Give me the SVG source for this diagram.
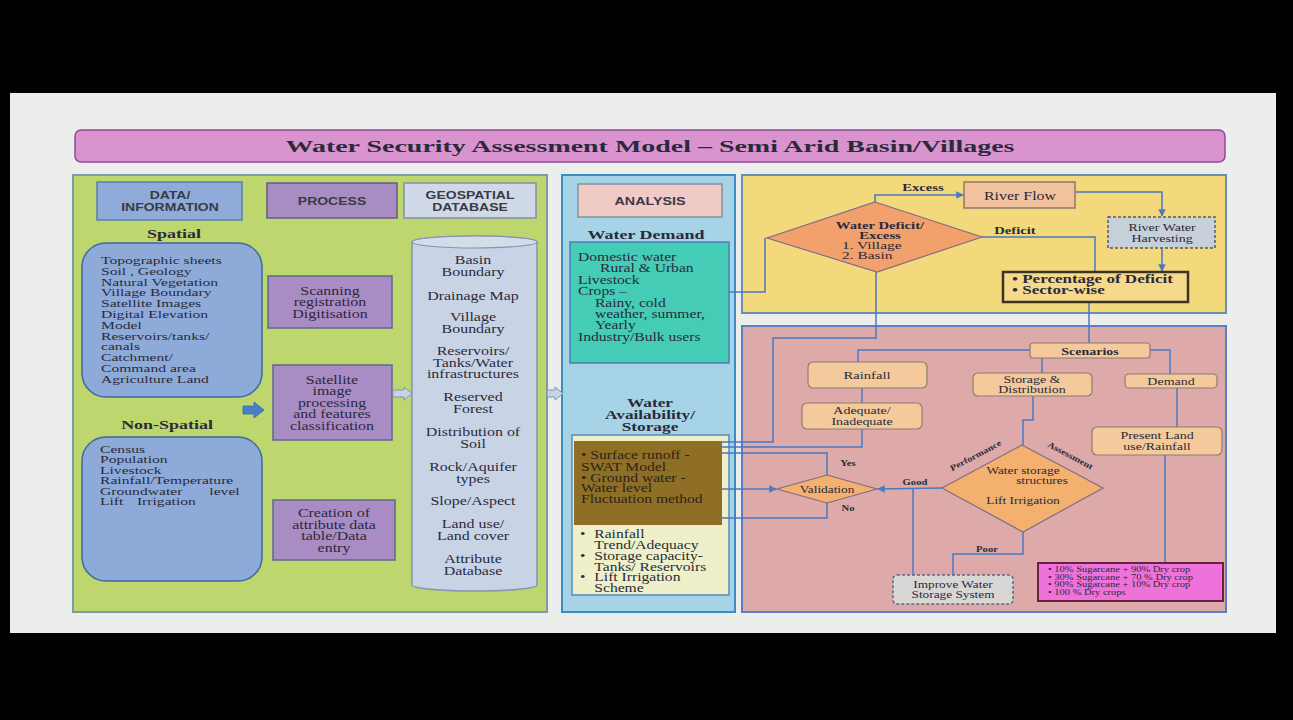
<svg xmlns="http://www.w3.org/2000/svg" width="1293" height="720" viewBox="0 0 1293 720">
<defs>
<marker id="ah" viewBox="0 0 10 10" refX="9" refY="5" markerWidth="5" markerHeight="5" orient="auto-start-reverse"><path d="M0,0 L10,5 L0,10 Z" fill="#4a78c2"/></marker>
<style>
.t{font-family:"Liberation Serif","Times New Roman",serif;fill:#2a2a3a}
.b{font-weight:bold}
.h{font-family:"Liberation Sans",Arial,sans-serif;font-weight:bold;font-size:10px;fill:#3a3a44}
.m{text-anchor:middle}
.c{stroke:#4a78c2;stroke-width:1.5;fill:none}
.pk{fill:#f4c99c;stroke:#8c7d70;stroke-width:1.2}
.dm{stroke:#7e6e86;stroke-width:1.2}
</style>
</defs>
<rect x="0" y="0" width="1293" height="720" fill="#000"/>
<rect x="10" y="93" width="1266" height="540" fill="#ebeeeb"/>

<g id="title">
<rect x="75" y="130" width="1150" height="32" rx="6" fill="#d994cf" stroke="#8e4a9c" stroke-width="1.5"/>
<text x="650" y="152" class="t b m" font-size="17" textLength="729" lengthAdjust="spacingAndGlyphs">Water Security Assessment Model – Semi Arid Basin/Villages</text>
</g>

<g id="panel-data">
<rect x="73" y="175" width="474" height="437" fill="#bdd66e" stroke="#7f98a8" stroke-width="2"/>
</g>
<g id="panel-analysis">
<rect x="562" y="175" width="173" height="437" fill="#a6d4e6" stroke="#3a8cc4" stroke-width="2"/>
</g>
<g id="panel-deficit">
<rect x="742" y="175" width="484" height="138" fill="#f4d97c" stroke="#6a8fb0" stroke-width="2"/>
</g>
<g id="panel-scenarios">
<rect x="742" y="326" width="484" height="286" fill="#ddaaa9" stroke="#5a7fc4" stroke-width="2"/>
</g>

<g id="data-info">
<rect x="97" y="182" width="145" height="38" fill="#8eabd9" stroke="#5a7fb0" stroke-width="1.5"/>
<text class="h m" transform="translate(170,199) scale(1.4,1)">DATA/<tspan x="0" dy="12">INFORMATION</tspan></text>
</g>
<g id="process-head">
<rect x="267" y="183" width="130" height="35" fill="#a88dc2" stroke="#6a5a8a" stroke-width="1.5"/>
<text class="h m" transform="translate(332,205) scale(1.4,1)">PROCESS</text>
</g>
<g id="geo-head">
<rect x="404" y="183" width="132" height="35" fill="#cfd9e8" stroke="#8090a8" stroke-width="1.5"/>
<text class="h m" transform="translate(470,199) scale(1.4,1)">GEOSPATIAL<tspan x="0" dy="12">DATABASE</tspan></text>
</g>

<g id="spatial">
<text class="t b m" font-size="13.5" transform="translate(174,238) scale(1.33,1)">Spatial</text>
<rect x="82" y="243" width="180" height="154" rx="24" fill="#8eaad8" stroke="#3f6aa0" stroke-width="1.5"/>
<text class="t" font-size="11" transform="translate(101,264) scale(1.42,1)"><tspan x="0">Topographic sheets</tspan><tspan x="0" dy="10.8">Soil , Geology</tspan><tspan x="0" dy="10.8">Natural Vegetation</tspan><tspan x="0" dy="10.8">Village Boundary</tspan><tspan x="0" dy="10.8">Satellite Images</tspan><tspan x="0" dy="10.8">Digital Elevation</tspan><tspan x="0" dy="10.8">Model</tspan><tspan x="0" dy="10.8">Reservoirs/tanks/</tspan><tspan x="0" dy="10.8">canals</tspan><tspan x="0" dy="10.8">Catchment/</tspan><tspan x="0" dy="10.8">Command area</tspan><tspan x="0" dy="10.8">Agriculture Land</tspan></text>
</g>

<g id="nonspatial">
<text class="t b m" font-size="13.5" transform="translate(167,429) scale(1.33,1)">Non-Spatial</text>
<rect x="82" y="437" width="180" height="144" rx="24" fill="#8eaad8" stroke="#3f6aa0" stroke-width="1.5"/>
<text class="t" font-size="11" transform="translate(100,453) scale(1.42,1)"><tspan x="0">Census</tspan><tspan x="0" dy="10.5">Population</tspan><tspan x="0" dy="10.5">Livestock</tspan><tspan x="0" dy="10.5">Rainfall/Temperature</tspan><tspan x="0" dy="10.5">Groundwater</tspan><tspan x="77" dy="0">level</tspan><tspan x="0" dy="10.5">Lift</tspan><tspan x="26" dy="0">Irrigation</tspan></text>
</g>

<g id="arrow-in">
<path d="M243,406 H254 V402 L264,410 L254,418 V414 H243 Z" fill="#4a7fc8" stroke="#3a6aa8" stroke-width="0.8"/>
</g>

<g id="proc-scan">
<rect x="268" y="276" width="124" height="52" fill="#a98cc4" stroke="#5c6a8c" stroke-width="1.5"/>
<text class="t m" font-size="12" transform="translate(330,295) scale(1.33,1)">Scanning<tspan x="0" dy="11.5">registration</tspan><tspan x="0" dy="11.5">Digitisation</tspan></text>
</g>
<g id="proc-sat">
<rect x="273" y="365" width="119" height="75" fill="#a98cc4" stroke="#5c6a8c" stroke-width="1.5"/>
<text class="t m" font-size="12" transform="translate(332,384) scale(1.33,1)">Satellite<tspan x="0" dy="11.5">image</tspan><tspan x="0" dy="11.5">processing</tspan><tspan x="0" dy="11.5">and features</tspan><tspan x="0" dy="11.5">classification</tspan></text>
</g>
<g id="proc-attr">
<rect x="273" y="500" width="122" height="60" fill="#a98cc4" stroke="#5c6a8c" stroke-width="1.5"/>
<text class="t m" font-size="12" transform="translate(334,517) scale(1.33,1)">Creation of<tspan x="0" dy="11.7">attribute data</tspan><tspan x="0" dy="11.7">table/Data</tspan><tspan x="0" dy="11.7">entry</tspan></text>
</g>

<g id="hollow-arrows">
<path d="M393,390 H404 V387 L412,393.5 L404,400 V397 H393 Z" fill="#c8d3e5" stroke="#8294b6" stroke-width="1"/>
<path d="M547,390 H555 V387 L563,393.5 L555,400 V397 H547 Z" fill="#c8d3e5" stroke="#8294b6" stroke-width="1"/>
</g>

<g id="geodb">
<path d="M412,242 A62.5,6 0 0 1 537,242 V585 A62.5,6 0 0 1 412,585 Z" fill="#c8d3e5" stroke="#8294b6" stroke-width="1.5"/>
<ellipse cx="474.5" cy="242" rx="62.5" ry="6" fill="#d4dcea" stroke="#8294b6" stroke-width="1.2"/>
<text class="t m" font-size="12" transform="translate(473,264) scale(1.33,1)"><tspan x="0">Basin</tspan><tspan x="0" dy="12">Boundary</tspan><tspan x="0" dy="24">Drainage Map</tspan><tspan x="0" dy="21.5">Village</tspan><tspan x="0" dy="12">Boundary</tspan><tspan x="0" dy="22">Reservoirs/</tspan><tspan x="0" dy="11.5">Tanks/Water</tspan><tspan x="0" dy="11.5">infrastructures</tspan><tspan x="0" dy="23">Reserved</tspan><tspan x="0" dy="11.5">Forest</tspan><tspan x="0" dy="23.5">Distribution of</tspan><tspan x="0" dy="11.5">Soil</tspan><tspan x="0" dy="23.5">Rock/Aquifer</tspan><tspan x="0" dy="11.5">types</tspan><tspan x="0" dy="22.5">Slope/Aspect</tspan><tspan x="0" dy="22.5">Land use/</tspan><tspan x="0" dy="12">Land cover</tspan><tspan x="0" dy="23">Attribute</tspan><tspan x="0" dy="12">Database</tspan></text>
</g>

<g id="analysis-head">
<rect x="578" y="184" width="144" height="33" fill="#efcac6" stroke="#8a8f9a" stroke-width="1.5"/>
<text class="h m" transform="translate(650,205) scale(1.43,1)">ANALYSIS</text>
</g>
<g id="water-demand">
<text class="t b m" font-size="13.5" transform="translate(646,239) scale(1.33,1)">Water Demand</text>
<rect x="570" y="242" width="159" height="121" fill="#44ccb6" stroke="#4a7fb8" stroke-width="1.5"/>
<text class="t" font-size="12" transform="translate(578,261) scale(1.3,1)"><tspan x="0">Domestic water</tspan><tspan x="17" dy="11.4">Rural &amp; Urban</tspan><tspan x="0" dy="11.4">Livestock</tspan><tspan x="0" dy="11.4">Crops –</tspan><tspan x="13" dy="11.4">Rainy, cold</tspan><tspan x="13" dy="11.4">weather, summer,</tspan><tspan x="13" dy="11.4">Yearly</tspan><tspan x="0" dy="11.4">Industry/Bulk users</tspan></text>
</g>
<g id="water-availability">
<text class="t b m" font-size="13" transform="translate(650,407) scale(1.33,1)">Water<tspan x="0" dy="12">Availability/</tspan><tspan x="0" dy="12">Storage</tspan></text>
<rect x="572" y="435" width="157" height="160" fill="#eef0c9" stroke="#5a8ac0" stroke-width="1.5"/>
<rect x="574" y="441" width="148" height="84" fill="#8f6f25"/>
<text class="t" font-size="12" style="fill:#2a2418" transform="translate(581,459) scale(1.3,1)"><tspan x="0">• Surface runoff -</tspan><tspan x="0" dy="12">SWAT Model</tspan><tspan x="0" dy="11">• Ground water -</tspan><tspan x="0" dy="10.5">Water level</tspan><tspan x="0" dy="10.5">Fluctuation method</tspan></text>
<text class="t" font-size="12" transform="translate(580,538) scale(1.3,1)"><tspan x="0">•</tspan><tspan x="11" dy="0">Rainfall</tspan><tspan x="11" dy="11">Trend/Adequacy</tspan><tspan x="0" dy="10.8">•</tspan><tspan x="11" dy="0">Storage capacity-</tspan><tspan x="11" dy="10.8">Tanks/ Reservoirs</tspan><tspan x="0" dy="10.8">•</tspan><tspan x="11" dy="0">Lift Irrigation</tspan><tspan x="11" dy="10.8">Scheme</tspan></text>
</g>

<g id="connectors">
<polyline class="c" points="729,292 765,292 765,238"/>
<polyline class="c" points="875,202 875,195 963,195" marker-end="url(#ah)"/>
<polyline class="c" points="1075,192 1162,192 1162,216" marker-end="url(#ah)"/>
<polyline class="c" points="1162,248 1162,271" marker-end="url(#ah)"/>
<polyline class="c" points="982,237 1095,237 1095,272"/>
<polyline class="c" points="1089,302 1089,343"/>
<polyline class="c" points="876,272 876,338 773,338 773,442 722,442"/>
<polyline class="c" points="1030,350 858,350 858,362"/>
<polyline class="c" points="862,388 862,403"/>
<polyline class="c" points="862,429 862,447 722,447"/>
<polyline class="c" points="827,475 827,453 722,453"/>
<polyline class="c" points="722,489 776,489" marker-end="url(#ah)"/>
<polyline class="c" points="827,503 827,518 722,518"/>
<polyline class="c" points="942,488 878,489" marker-end="url(#ah)"/>
<polyline class="c" points="913,489 913,575"/>
<polyline class="c" points="1023,532 1023,554 953,554 953,575"/>
<polyline class="c" points="1042,358 1042,373"/>
<polyline class="c" points="1033,396 1033,420 1023,420 1023,445"/>
<polyline class="c" points="1150,350 1170,350 1170,374"/>
<polyline class="c" points="1177,388 1177,427"/>
<polyline class="c" points="1165,455 1165,563"/>
<text class="t b m" font-size="11" transform="translate(923,191) scale(1.33,1)">Excess</text>
<text class="t b m" font-size="11" transform="translate(1015,234) scale(1.33,1)">Deficit</text>
<text class="t b m" font-size="8" transform="translate(848,466) scale(1.33,1)">Yes</text>
<text class="t b m" font-size="8" transform="translate(848,511) scale(1.33,1)">No</text>
<text class="t b m" font-size="8" transform="translate(915,485) scale(1.33,1)">Good</text>
<text class="t b m" font-size="8" transform="translate(987,552) scale(1.33,1)">Poor</text>
</g>

<g id="river-flow">
<rect x="964" y="182" width="111" height="26" fill="#f2c29e" stroke="#8c7b6a" stroke-width="1.5"/>
<text class="t m" font-size="12" transform="translate(1020,200) scale(1.33,1)">River Flow</text>
</g>
<g id="deficit-diamond">
<polygon points="875,202 982,237 877,272 767,238" class="dm" fill="#f2a06c"/>
<text class="t b m" font-size="10.5" transform="translate(880,229) scale(1.4,1)">Water Deficit/<tspan x="0" dy="10">Excess</tspan></text>
<text class="t" font-size="11" transform="translate(842,249) scale(1.4,1)"><tspan x="0">1. Village</tspan><tspan x="0" dy="10">2. Basin</tspan></text>
</g>
<g id="river-harvest">
<rect x="1108" y="217" width="107" height="31" fill="#c7cfd9" stroke="#555a66" stroke-width="1.5" stroke-dasharray="3,2"/>
<text class="t m" font-size="10.5" transform="translate(1162,231) scale(1.33,1)">River Water<tspan x="0" dy="11">Harvesting</tspan></text>
</g>
<g id="percentage">
<rect x="1003" y="272" width="185" height="30" fill="#f6d98a" stroke="#3a3520" stroke-width="2.5"/>
<text class="t b" font-size="11.5" transform="translate(1012,283) scale(1.48,1)"><tspan x="0">• Percentage of Deficit</tspan><tspan x="0" dy="11">• Sector-wise</tspan></text>
</g>

<g id="scenarios">
<rect x="1030" y="343" width="120" height="15" rx="3" class="pk"/>
<text class="t b m" font-size="10.5" transform="translate(1090,355) scale(1.33,1)">Scenarios</text>
</g>
<g id="rainfall">
<rect x="808" y="362" width="119" height="26" rx="5" class="pk"/>
<text class="t m" font-size="11" transform="translate(867,379) scale(1.33,1)">Rainfall</text>
</g>
<g id="adequate">
<rect x="802" y="403" width="120" height="26" rx="5" class="pk"/>
<text class="t m" font-size="10.5" transform="translate(862,414) scale(1.33,1)">Adequate/<tspan x="0" dy="11">Inadequate</tspan></text>
</g>
<g id="storage-dist">
<rect x="973" y="373" width="119" height="23" rx="5" class="pk"/>
<text class="t m" font-size="10.5" transform="translate(1032,383) scale(1.33,1)">Storage &amp;<tspan x="0" dy="10.5">Distribution</tspan></text>
</g>
<g id="demand">
<rect x="1125" y="374" width="92" height="14" rx="4" class="pk"/>
<text class="t m" font-size="10.5" transform="translate(1171,385) scale(1.33,1)">Demand</text>
</g>
<g id="present-land">
<rect x="1092" y="427" width="130" height="28" rx="5" class="pk"/>
<text class="t m" font-size="10.5" transform="translate(1157,439) scale(1.33,1)">Present Land<tspan x="0" dy="11">use/Rainfall</tspan></text>
</g>
<g id="validation">
<polygon points="827,475 877,489 827,503 777,489" class="dm" fill="#f3b06e"/>
<text class="t m" font-size="10" transform="translate(827,493) scale(1.33,1)">Validation</text>
</g>
<g id="storage-diamond">
<polygon points="1022,445 1103,488 1023,532 942,488" class="dm" fill="#f3b06e"/>
<text class="t m" font-size="10" transform="translate(1023,474) scale(1.33,1)">Water storage</text>
<text class="t m" font-size="10" transform="translate(1042,484) scale(1.33,1)">structures</text>
<text class="t m" font-size="10" transform="translate(1023,504) scale(1.33,1)">Lift Irrigation</text>
<text class="t b m" font-size="8.5" transform="translate(977,458) rotate(-28) scale(1.2,1)">Performance</text>
<text class="t b m" font-size="8.5" transform="translate(1069,458) rotate(28) scale(1.2,1)">Assessment</text>
</g>
<g id="improve">
<rect x="893" y="575" width="120" height="29" rx="4" fill="#d9d6d6" stroke="#5a6a80" stroke-width="1.5" stroke-dasharray="3,2"/>
<text class="t m" font-size="10" transform="translate(953,588) scale(1.33,1)">Improve Water<tspan x="0" dy="10">Storage System</tspan></text>
</g>
<g id="crop-mix">
<rect x="1038" y="563" width="185" height="38" fill="#ef72da" stroke="#6a2040" stroke-width="2"/>
<text class="t" font-size="7.5" transform="translate(1048,572) scale(1.4,1)"><tspan x="0">• 10% Sugarcane + 90% Dry crop</tspan><tspan x="0" dy="7.6">• 30% Sugarcane + 70 % Dry crop</tspan><tspan x="0" dy="7.6">• 90% Sugarcane + 10% Dry crop</tspan><tspan x="0" dy="7.6">• 100 % Dry crops</tspan></text>
</g>
</svg>
